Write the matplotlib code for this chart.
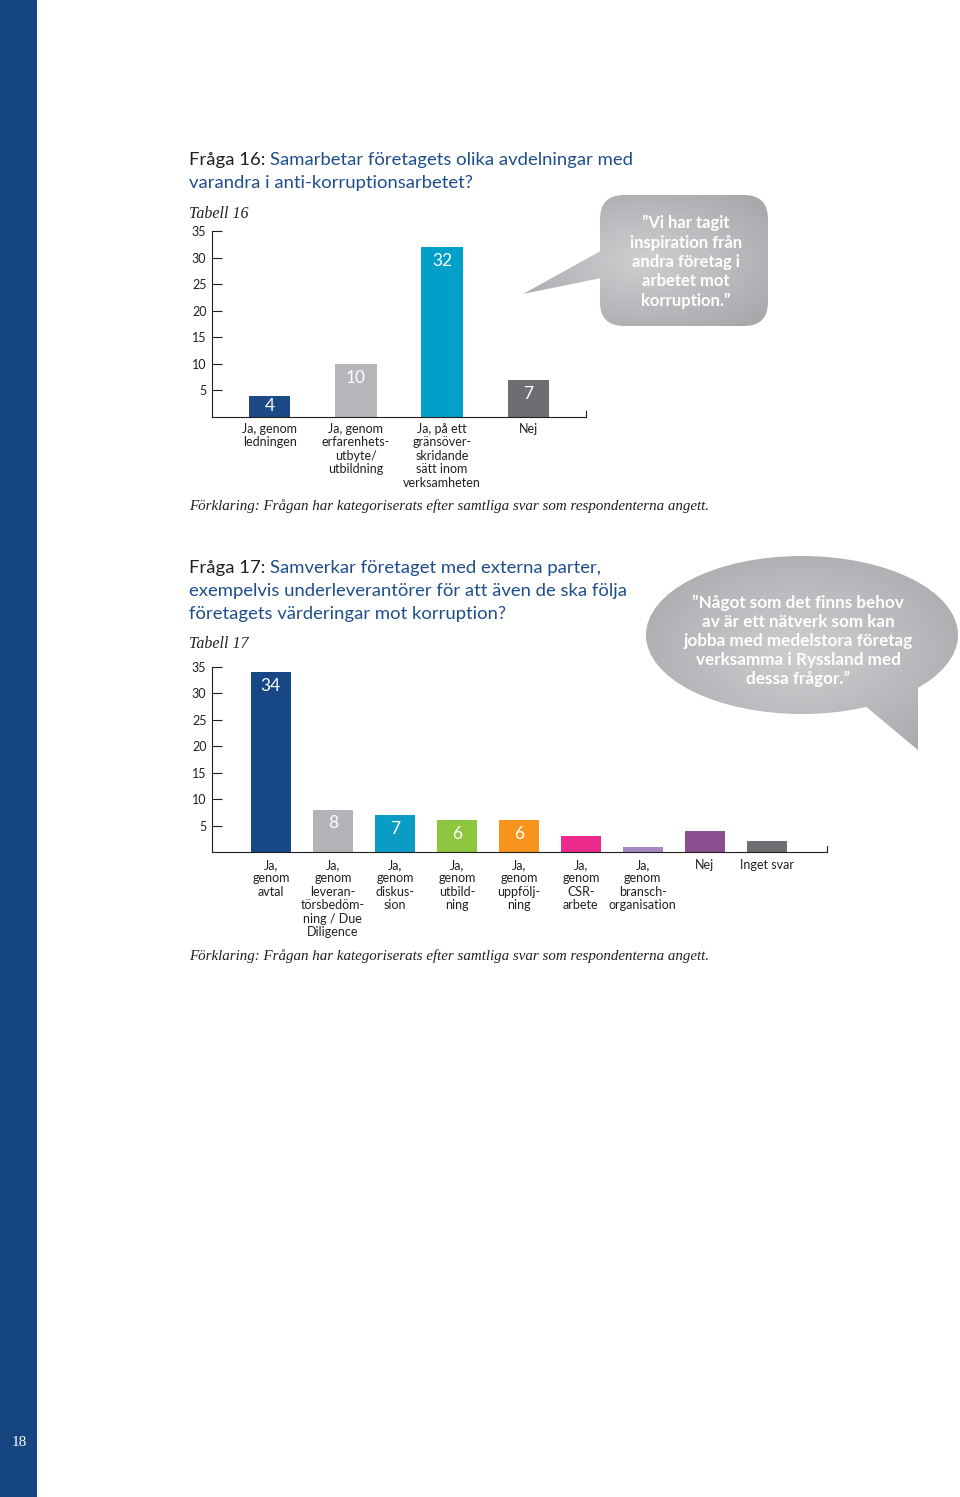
import numpy as np
import matplotlib.pyplot as plt
from matplotlib.patches import FancyBboxPatch, Polygon, Ellipse, Rectangle

W, H = 960, 1497

# Tabell 16
cats16 = ['Ja, genom\nledningen',
          'Ja, genom\nerfarenhets-\nutbyte/\nutbildning',
          'Ja, på ett\ngränsöver-\nskridande\nsätt inom\nverksamheten',
          'Nej']
vals16 = [4, 10, 32, 7]
colors16 = ['#1b4a86', '#b4b6b9', '#00a0c8', '#6d6e71']
show16 = [True, True, True, True]

# Tabell 17
cats17 = ['Ja,\ngenom\navtal',
          'Ja,\ngenom\nleveran-\ntörsbedöm-\nning / Due\nDiligence',
          'Ja,\ngenom\ndiskus-\nsion',
          'Ja,\ngenom\nutbild-\nning',
          'Ja,\ngenom\nuppfölj-\nning',
          'Ja,\ngenom\nCSR-\narbete',
          'Ja,\ngenom\nbransch-\norganisation',
          'Nej',
          'Inget svar']
vals17 = [34, 8, 7, 6, 6, 3, 1, 4, 2]
colors17 = ['#174785', '#b2b4b7', '#0b9cc6', '#8dc63f', '#f7941d',
            '#ec2a8c', '#a488c2', '#8a4f8e', '#6d6e71']
show17 = [True, True, True, True, True, False, False, False, False]

yticks = [5, 10, 15, 20, 25, 30, 35]

DARK = '#231f20'
BLUE = '#1f4e8c'
SANS = ['Lato', 'DejaVu Sans']
SERIF = ['Liberation Serif', 'DejaVu Serif']

plt.rcParams['font.family'] = SANS

fig = plt.figure(figsize=(W / 100, H / 100), dpi=100)
bg = fig.add_axes([0, 0, 1, 1])
bg.set_xlim(0, W)
bg.set_ylim(H, 0)
bg.axis('off')

# blue page margin + page number
bg.add_patch(Rectangle((0, 0), 37, H, color='#16467f', lw=0))
bg.text(12, 1443, '18', color='white', fontsize=11, family=SERIF, va='center')


def add_ax(l, r, t, b):
    return fig.add_axes([l / W, 1 - b / H, (r - l) / W, (b - t) / H])


def draw_bars(ax, cats, vals, colors, show, width, xlim, pad):
    x = np.arange(len(vals))
    ax.bar(x, vals, width=width, color=colors, zorder=2)
    for xi, v, s in zip(x, vals, show):
        if s:
            ax.text(xi, v - min(2.6, v / 2), str(v), ha='center', va='center',
                    color='white', fontsize=12.5)
    ax.set_xlim(*xlim)
    ax.set_ylim(0, 35)
    ax.set_yticks(yticks)
    ax.set_yticklabels([str(t) for t in yticks], fontsize=9, color=DARK)
    ax.tick_params(axis='y', direction='in', length=7, width=0.8, color=DARK, pad=4)
    ax.set_xticks(x)
    ax.set_xticklabels(cats, fontsize=9, color=DARK, linespacing=1.15)
    ax.tick_params(axis='x', length=0, pad=pad)
    for sp in ['top', 'right']:
        ax.spines[sp].set_visible(False)
    for sp in ['left', 'bottom']:
        ax.spines[sp].set_color(DARK)
        ax.spines[sp].set_linewidth(0.8)
    ax.plot([1, 1], [0, 0.03], transform=ax.transAxes, color=DARK, lw=0.8,
            clip_on=False)
    ax.patch.set_alpha(0)


ax16 = add_ax(212, 586, 231, 417)
draw_bars(ax16, cats16, vals16, colors16, show16, 0.48, (-0.67, 3.67), 4)

ax17 = add_ax(212, 827, 667, 852)
draw_bars(ax17, cats17, vals17, colors17, show17, 0.645, (-0.95, 8.97), 5)

renderer = fig.canvas.get_renderer()


def title(x, y, head, lines):
    t = bg.text(x, y, head, fontsize=13.3, color=DARK, va='baseline')
    w = t.get_window_extent(renderer).width
    bg.text(x + w, y, lines[0], fontsize=13.3, color=BLUE, va='baseline')
    for i, line in enumerate(lines[1:]):
        bg.text(x, y + 23 * (i + 1), line, fontsize=13.3, color=BLUE, va='baseline')


title(189, 165, 'Fråga 16: ', ['Samarbetar företagets olika avdelningar med',
                               'varandra i anti-korruptionsarbetet?'])
title(189, 573, 'Fråga 17: ', ['Samverkar företaget med externa parter,',
                               'exempelvis underleverantörer för att även de ska följa',
                               'företagets värderingar mot korruption?'])

note = 'Förklaring: Frågan har kategoriserats efter samtliga svar som respondenterna angett.'
for y, s in [(218, 'Tabell 16'), (648, 'Tabell 17')]:
    bg.text(189, y, s, fontsize=11.5, family=SERIF, style='italic', color=DARK,
            va='baseline')
for y in [510, 960]:
    bg.text(189, y, note, fontsize=10.8, family=SERIF, style='italic', color=DARK,
            va='baseline')


# speech bubbles with grey radial gradient
def gradient(patches, extent):
    x0, x1, y0, y1 = extent
    xx, yy = np.meshgrid(np.linspace(-1, 1, 200), np.linspace(-1, 1, 200))
    r = np.clip(np.sqrt(xx ** 2 + yy ** 2), 0, 1.4) / 1.4
    light = np.array([0.81, 0.81, 0.82])
    dark = np.array([0.63, 0.64, 0.65])
    img = light[None, None, :] * (1 - r[..., None]) + dark[None, None, :] * r[..., None]
    for p in patches:
        p.set_facecolor('none')
        p.set_edgecolor('none')
        bg.add_patch(p)
        im = bg.imshow(img, extent=(x0, x1, y1, y0), aspect='auto', zorder=1)
        im.set_clip_path(p)


b1 = FancyBboxPatch((600, 195), 168, 131, boxstyle='round,pad=0,rounding_size=24')
t1 = Polygon([(606, 248), (523, 294), (606, 277)], closed=True)
gradient([b1, t1], (515, 775, 190, 330))

b2 = Ellipse((802, 635), 312, 158)
t2 = Polygon([(858, 700), (918, 750), (918, 680)], closed=True)
gradient([b2, t2], (640, 965, 550, 755))
bg.set_xlim(0, W)
bg.set_ylim(H, 0)

bg.text(686, 262, '”Vi har tagit\ninspiration från\nandra företag i\narbetet mot\nkorruption.”',
        ha='center', va='center', color='white', fontsize=12, fontweight='bold',
        linespacing=1.25, zorder=3)
bg.text(798, 641, '”Något som det finns behov\nav är ett nätverk som kan\njobba med medelstora företag\n'
        'verksamma i Ryssland med\ndessa frågor.”',
        ha='center', va='center', color='white', fontsize=12.3, fontweight='bold',
        linespacing=1.23, zorder=3)

fig.savefig('out.png', dpi=100)
